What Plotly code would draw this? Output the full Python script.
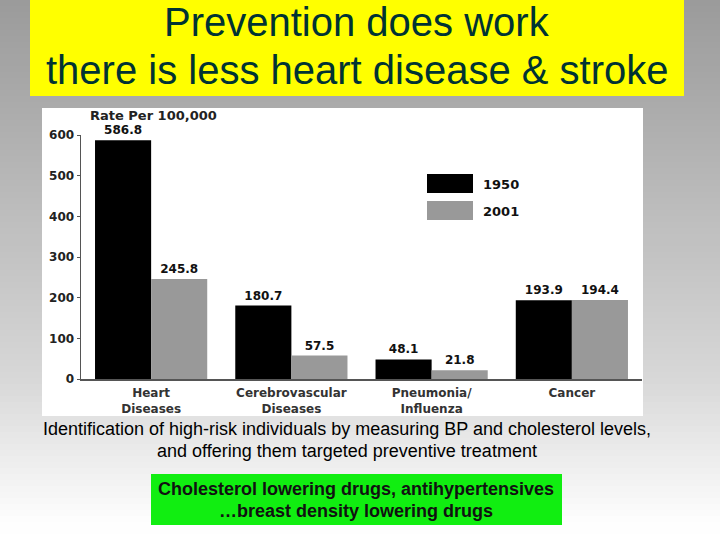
import plotly.graph_objects as go

# ---- data ----
categories = ["Heart<br>Diseases", "Cerebrovascular<br>Diseases", "Pneumonia/<br>Influenza", "Cancer"]
rate_1950 = [586.8, 180.7, 48.1, 193.9]
rate_2001 = [245.8, 57.5, 21.8, 194.4]
series_names = ["1950", "2001"]
y_ticks = [0, 100, 200, 300, 400, 500, 600]

W, H = 720, 540
BLACK = "#000000"
GRAY = "#999999"
FONT = "Liberation Sans, Arial, sans-serif"
CFONT = "DejaVu Sans, sans-serif"


def px(x):
    return x / W


def py(y):
    return 1 - y / H


fig = go.Figure()
for vals, name, col in [(rate_1950, series_names[0], BLACK), (rate_2001, series_names[1], GRAY)]:
    fig.add_trace(go.Bar(
        x=categories, y=vals, name=name, marker_color=col,
        marker_line_width=0, text=[f"{v:.1f}" for v in vals],
        textposition="outside", cliponaxis=False,
        textfont=dict(family=CFONT, size=12, color="#111111", weight="bold"),
        hoverinfo="skip",
    ))

shapes = []
# background vertical gradient
stops = [(0, 155), (100, 170), (380, 216), (520, 253), (540, 255)]


def shade(y):
    for (y0, c0), (y1, c1) in zip(stops[:-1], stops[1:]):
        if y0 <= y <= y1:
            return c0 + (c1 - c0) * (y - y0) / (y1 - y0)
    return 255


step = 6
for y in range(0, H, step):
    c = int(round(shade(y + step / 2)))
    shapes.append(dict(type="rect", xref="paper", yref="paper", layer="below",
                       x0=0, x1=1, y0=py(min(y + step + 1, H)), y1=py(y),
                       fillcolor=f"rgb({c},{c},{c})", line_width=0))
# yellow title box
shapes.append(dict(type="rect", xref="paper", yref="paper", layer="below",
                   x0=px(30), x1=px(684), y0=py(96), y1=py(0),
                   fillcolor="#ffff00", line_width=0))
# white chart panel
shapes.append(dict(type="rect", xref="paper", yref="paper", layer="below",
                   x0=px(42), x1=px(643), y0=py(416), y1=py(108),
                   fillcolor="#ffffff", line_width=0))
# green box
shapes.append(dict(type="rect", xref="paper", yref="paper", layer="below",
                   x0=px(151), x1=px(562), y0=py(525), y1=py(474),
                   fillcolor="#11ee11", line_width=0))
# legend boxes
shapes.append(dict(type="rect", xref="paper", yref="paper",
                   x0=px(427), x1=px(473), y0=py(193), y1=py(174),
                   fillcolor=BLACK, line_width=0))
shapes.append(dict(type="rect", xref="paper", yref="paper",
                   x0=px(427), x1=px(473), y0=py(220), y1=py(201),
                   fillcolor=GRAY, line_width=0))


def label(text, x, y, size, color, weight="normal", family=FONT, xanchor="center"):
    return dict(text=text, x=px(x), y=py(y), xref="paper", yref="paper", showarrow=False,
                font=dict(family=family, size=size, color=color, weight=weight),
                xanchor=xanchor, yanchor="middle")


annotations = [
    label("Prevention does work", 357, 22, 40, "#003333"),
    label("there is less heart disease &amp; stroke", 357, 70, 40, "#003333"),
    label("Rate Per 100,000", 153, 116, 13, "#222222", "bold", CFONT),
    label(series_names[0], 481, 184, 13, "#111111", "bold", CFONT, "left"),
    label(series_names[1], 481, 211, 13, "#111111", "bold", CFONT, "left"),
    label("Identification of high-risk individuals by measuring BP and cholesterol levels,",
          347, 429, 18, "#000000"),
    label("and offering them targeted preventive treatment", 347, 451, 18, "#000000"),
    label("Cholesterol lowering drugs, antihypertensives", 356, 489, 18, "#111111", "bold"),
    label("\u2026breast density lowering drugs", 356, 511, 18, "#111111", "bold"),
]

fig.update_layout(
    width=W, height=H,
    margin=dict(l=0, r=0, t=0, b=0, pad=0, autoexpand=False),
    paper_bgcolor="#ffffff", plot_bgcolor="rgba(0,0,0,0)",
    barmode="group", bargap=0.2, bargroupgap=0,
    showlegend=False,
    shapes=shapes, annotations=annotations,
    xaxis=dict(domain=[px(81), px(642)], range=[-0.5, 3.5], showline=True,
               linecolor="#555555", linewidth=1.5, ticks="", showgrid=False,
               automargin=False, ticklabelstandoff=2,
               tickfont=dict(family=CFONT, size=12, color="#333333", weight="bold"),
               fixedrange=True),
    yaxis=dict(domain=[py(379), py(135)], range=[0, 600], tickvals=y_ticks,
               showline=True, linecolor="#555555", linewidth=1.5, ticks="outside",
               ticklen=3, tickcolor="#555555", showgrid=False, zeroline=False,
               automargin=False,
               tickfont=dict(family=CFONT, size=12, color="#222222", weight="bold"),
               fixedrange=True),
    font=dict(family=FONT),
)

fig.write_html("out.html",
               config={"displayModeBar": False, "staticPlot": True},
               post_script="document.body.style.margin='0';document.body.style.padding='0';"
                           "document.body.style.overflow='hidden';")
